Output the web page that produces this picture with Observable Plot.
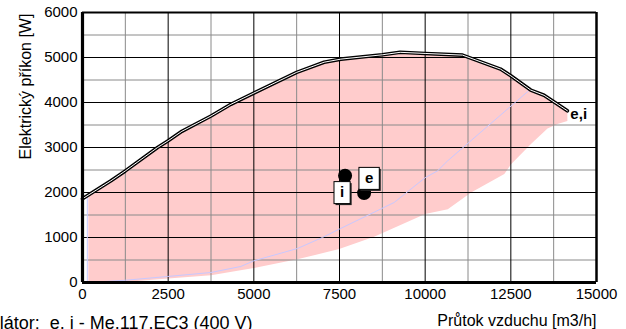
<!DOCTYPE html>
<html><head><meta charset="utf-8">
<script src="https://cdn.jsdelivr.net/npm/d3@7"></script>
<script src="https://cdn.jsdelivr.net/npm/@observablehq/plot@0.6"></script>
<style>
body{margin:0;background:#fff}
svg{display:block}
</style>
</head><body><div id="chart"></div>
<script>
// tick values
const xTicks = [0, 2500, 5000, 7500, 10000, 12500, 15000];
const yTicks = [0, 1000, 2000, 3000, 4000, 5000, 6000];
const xMinor = [1250, 3750, 6250, 8750, 11250, 13750];
const yMinor = [500, 1500, 2500, 3500, 4500, 5500];

// fan curve (power vs airflow)
const curveX = [0, 830, 1250, 2190, 2500, 2900, 3750, 4330, 5000, 6250, 7050, 7540, 8750, 9270, 10000, 11090, 12200, 12500, 13080, 13470, 14150];
const curveY = [1860, 2260, 2480, 3000, 3150, 3360, 3700, 3960, 4210, 4670, 4895, 4964, 5060, 5115, 5090, 5053, 4742, 4593, 4276, 4160, 3816];

// lower/left limit of the working area (pink)
const limitX = [170, 170, 1500, 2500, 3750, 5000, 6300, 7490, 8510, 10000, 10660, 11340, 12310, 12500, 13080, 13570, 13860, 14150];
const limitY = [1930, 0, 30, 90, 160, 320, 520, 742, 1015, 1520, 1630, 2000, 2410, 2620, 3075, 3420, 3520, 3590];

// lavender system line
const sysX = [140, 140, 1250, 2480, 3745, 4620, 5000, 6275, 7000, 7490, 9100, 10000, 10360, 10650, 13080];
const sysY = [1920, 0, 50, 133, 222, 356, 482, 756, 1000, 1185, 1780, 2330, 2480, 2700, 4300];

// operating points
const pointNames = ["i", "e"];
const pointX = [7663, 8218];
const pointY = [2371, 1987];

const endLabel = "e,i";
const yTitle = "Elektrický příkon [W]";
const xTitle = "Průtok vzduchu [m3/h]";
const caption = "Ventilátor:  e, i - Me.117.EC3 (400 V)";

const curve = curveX.map((x, i) => ({x, y: curveY[i]}));
const limit = limitX.map((x, i) => ({x, y: limitY[i]}));
const polygon = limit.concat(curve.filter(d => d.x > limitX[0]).reverse());
const sys = sysX.map((x, i) => ({x, y: sysY[i]}));
const points = pointNames.map((name, i) => ({name, x: pointX[i], y: pointY[i]}));
const endPoint = [curve[curve.length - 1]];

const font = "'Liberation Sans', Arial, sans-serif";

const chart = Plot.plot({
  width: 626,
  height: 329,
  marginLeft: 82,
  marginRight: 30,
  marginTop: 12,
  marginBottom: 47,
  x: {domain: [0, 15000]},
  y: {domain: [0, 6000]},
  style: {fontFamily: font, fontSize: "15px", color: "#000", background: "#fff", overflow: "visible"},
  marks: [
    Plot.line(polygon, {x: "x", y: "y", fill: "#ffcccc", stroke: "none", curve: "linear"}),
    Plot.gridX(xMinor, {stroke: "#8a8a8a", strokeOpacity: 1, strokeWidth: 1}),
    Plot.gridY(yMinor, {stroke: "#8a8a8a", strokeOpacity: 1, strokeWidth: 1}),
    Plot.gridX(xTicks, {stroke: "#000", strokeOpacity: 1, strokeWidth: 1}),
    Plot.gridY(yTicks, {stroke: "#000", strokeOpacity: 1, strokeWidth: 1}),
    Plot.line(sys, {x: "x", y: "y", stroke: "#c8c8ff", strokeWidth: 1}),
    Plot.line(curve, {x: "x", y: "y", stroke: "#000", strokeWidth: 3.6, strokeLinejoin: "round"}),
    Plot.line(curve, {x: "x", y: "y", stroke: "#fff", strokeWidth: 1, strokeLinejoin: "round"}),
    Plot.ruleX([15000], {stroke: "#000", strokeWidth: 2.5}),
    Plot.ruleY([6000], {stroke: "#000", strokeWidth: 2}),
    Plot.ruleX([0], {stroke: "#000", strokeWidth: 3.2}),
    Plot.ruleY([0], {stroke: "#000", strokeWidth: 3.2}),
    Plot.axisX(xTicks, {tickSize: 0, tickPadding: 6, tickFormat: "d", label: null, fontSize: 15}),
    Plot.axisY(yTicks, {tickSize: 0, tickPadding: 5, tickFormat: "d", label: null, fontSize: 15}),
    Plot.dot(points, {x: "x", y: "y", r: 7, fill: "#000", stroke: "none"}),
    Plot.text(points.filter(d => d.name === "i"), {x: "x", y: "y", text: "name", dx: -3, dy: 16.5, fontWeight: "bold", fontSize: 15}),
    Plot.text(points.filter(d => d.name === "e"), {x: "x", y: "y", text: "name", dx: 5, dy: -15, fontWeight: "bold", fontSize: 15}),
    Plot.text(endPoint, {x: "x", y: "y", text: () => endLabel, textAnchor: "start", dx: 3, dy: 3, fontWeight: "bold", fontSize: 15}),
    Plot.text([yTitle], {frameAnchor: "left", rotate: -90, textAnchor: "middle", lineAnchor: "bottom", dx: -52, dy: -61, fontSize: 16}),
    Plot.text([xTitle], {frameAnchor: "bottom-right", textAnchor: "end", lineAnchor: "bottom", dy: 43, fontSize: 16}),
    Plot.text([caption], {frameAnchor: "bottom-left", textAnchor: "end", lineAnchor: "bottom", dx: 170, dy: 46.5, fontSize: 18})
  ]
});
document.getElementById("chart").appendChild(chart);

// white boxes with shadow behind the point labels
const ns = "http://www.w3.org/2000/svg";
Array.from(chart.querySelectorAll("text")).filter(t => pointNames.includes(t.textContent)).forEach(t => {
  const b = t.getBBox();
  const tr = t.getAttribute("transform") || "";
  const w = b.width + 12, h = 22;
  const cx = b.x + b.width / 2, cy = b.y + b.height / 2 + 1;
  const x0 = cx - w / 2, y0 = cy - h / 2;
  const sh = document.createElementNS(ns, "rect");
  sh.setAttribute("x", x0 + 1.5); sh.setAttribute("y", y0 + 1.5);
  sh.setAttribute("width", w); sh.setAttribute("height", h);
  sh.setAttribute("fill", "#222");
  if (tr) sh.setAttribute("transform", tr);
  const r = document.createElementNS(ns, "rect");
  r.setAttribute("x", x0); r.setAttribute("y", y0);
  r.setAttribute("width", w); r.setAttribute("height", h);
  r.setAttribute("fill", "#fff"); r.setAttribute("stroke", "#000"); r.setAttribute("stroke-width", 1);
  if (tr) r.setAttribute("transform", tr);
  t.parentNode.insertBefore(sh, t);
  t.parentNode.insertBefore(r, t);
});
chart.querySelectorAll("text").forEach(t => t.style.whiteSpace = "pre");
</script>
</body></html>
